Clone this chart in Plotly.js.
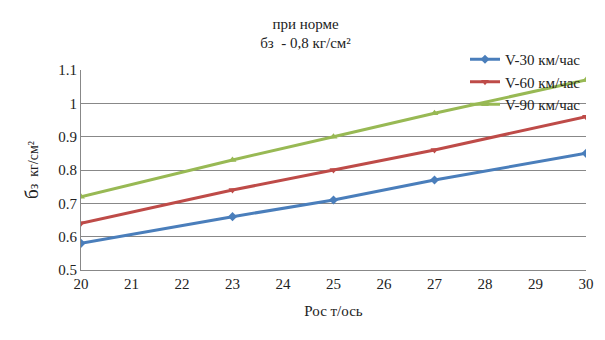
<!DOCTYPE html>
<html><head><meta charset="utf-8">
<script src="https://cdn.plot.ly/plotly-3.0.1.min.js"></script>
<style>body{margin:0;background:#fff}#c{width:605px;height:340px}</style>
</head><body><div id="c"></div>
<script>
const xVals = [20, 23, 25, 27, 30];
const v30 = [0.58, 0.66, 0.71, 0.77, 0.85];
const v60 = [0.64, 0.74, 0.80, 0.86, 0.96];
const v90 = [0.72, 0.83, 0.90, 0.97, 1.07];
const names = ['V-30 км/час', 'V-60 км/час', 'V-90 км/час'];
const xTicks = [20,21,22,23,24,25,26,27,28,29,30];
const yTicks = [0.5,0.6,0.7,0.8,0.9,1,1.1];

const F = '"Liberation Serif", "DejaVu Serif", serif';
const mk = (y, name, color, sym) => ({
  x: xVals, y: y, name: name, type: 'scatter', mode: 'lines+markers',
  line: {color: color, width: 3}, marker: {symbol: sym, size: 7, color: color}
});
const data = [
  mk(v30, names[0], '#4a7ebb', 'diamond'),
  mk(v60, names[1], '#be4b48', 'triangle-down'),
  mk(v90, names[2], '#98b954', 'triangle-up')
];
const layout = {
  width: 605, height: 340,
  paper_bgcolor: '#fff', plot_bgcolor: '#fff',
  margin: {l: 81, r: 19, t: 70, b: 70},
  font: {family: F, size: 15, color: '#222'},
  title: {text: 'при норме<br>бз  - 0,8 кг/см²', x: 0.505, xanchor: 'center', yref: 'container', y: 0.915, yanchor: 'middle', font: {family: F, size: 15, color: '#222'}},
  xaxis: {range: [20, 30], tickvals: xTicks, ticktext: xTicks.map(String), showgrid: false, zeroline: false,
    showline: true, linecolor: '#888', linewidth: 1, ticks: '', tickfont: {family: F, size: 15},
    title: {text: 'Рос т/ось', font: {family: F, size: 15}, standoff: 14}},
  yaxis: {range: [0.5, 1.1], tickvals: yTicks, ticktext: ['0.5','0.6','0.7','0.8','0.9','1','1.1'],
    showgrid: true, gridcolor: '#888', gridwidth: 1, zeroline: false, showline: true, linecolor: '#888', ticks: '',
    tickfont: {family: F, size: 15},
    title: {text: '<span style="font-size:19px">б</span>з  кг/см²', font: {family: F, size: 14}, standoff: 16}},
  legend: {x: 1.0, xanchor: 'right', y: 1.135, yanchor: 'top', bgcolor: 'rgba(0,0,0,0)',
    font: {family: F, size: 15, color: '#222'}, itemwidth: 30, tracegroupgap: 0},
  showlegend: true
};
Plotly.newPlot('c', data, layout, {displayModeBar: false, staticPlot: true});
</script></body></html>
